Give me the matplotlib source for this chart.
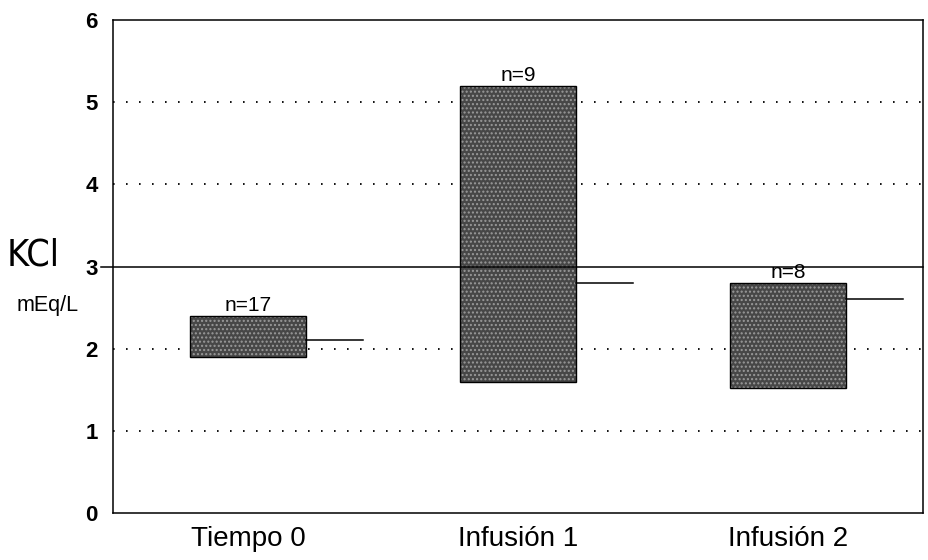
import matplotlib
matplotlib.use("Agg")
import matplotlib.pyplot as plt

categories = ["Tiempo 0", "Infusión 1", "Infusión 2"]
lows = [1.90, 1.60, 1.52]
highs = [2.40, 5.20, 2.80]
medians = [2.10, 2.80, 2.60]
n_labels = ["n=17", "n=9", "n=8"]
ref_value = 3.0
yticks = [0, 1, 2, 3, 4, 5, 6]

plt.rcParams['font.family'] = ['Liberation Sans', 'DejaVu Sans']

fig = plt.figure(figsize=(9.29, 5.60), dpi=100)
ax = fig.add_axes([113/929, 47/560, 810/929, 493/560])

x = list(range(len(categories)))
bw = 0.43
ext = 0.21

# dotted grid
for g in [1, 2, 4, 5]:
    ax.axhline(g, color='black', lw=1.3, dashes=(0.9, 6.3), zorder=1)

# reference line at 3
ax.plot([-0.545, 2.5], [ref_value, ref_value], color='black', lw=1.1,
        clip_on=False, zorder=4)

for xi, lo, hi, md, nl in zip(x, lows, highs, medians, n_labels):
    ax.bar(xi, hi - lo, bottom=lo, width=bw, color='#474747',
           edgecolor='#9a9a9a', hatch='....', lw=0, zorder=2)
    ax.bar(xi, hi - lo, bottom=lo, width=bw, fill=False,
           edgecolor='black', lw=1.0, zorder=3)
    ax.plot([xi + bw/2, xi + bw/2 + ext], [md, md], color='black', lw=1.1, zorder=3)
    ax.text(xi, hi + 0.01, nl, ha='center', va='bottom',
            fontsize=15, zorder=5)

ax.set_xlim(-0.5, 2.5)
ax.set_ylim(0, 6)
ax.set_yticks(yticks)
ax.set_yticklabels([str(t) for t in yticks], fontsize=16, fontweight='bold')
ax.set_xticks(x)
ax.set_xticklabels(categories, fontsize=20)
ax.tick_params(axis='x', length=0, pad=9)
ax.tick_params(axis='y', length=0, pad=11)
for s in ax.spines.values():
    s.set_linewidth(1.1)

fig.text(33/929, 1 - 256/560, "KCl", fontsize=27, ha='center', va='center',
         family=['DejaVu Sans'], fontstretch='condensed')
fig.text(48/929, 1 - 305/560, "mEq/L", fontsize=15.5, ha='center', va='center')

fig.savefig("out.png", dpi=100)
